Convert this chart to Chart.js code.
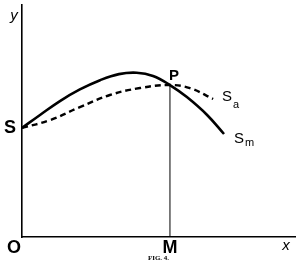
<!DOCTYPE html>
<html>
<head>
<meta charset="utf-8">
<script src="https://cdn.jsdelivr.net/npm/chart.js@4/dist/chart.umd.min.js"></script>
<style>
  html, body { margin: 0; padding: 0; background: #fff; }
  #wrap { width: 306px; height: 269px; position: relative; }
</style>
</head>
<body>
<div id="wrap"><canvas id="myChart"></canvas></div>
<script>
// curva Sm (linea continua) y Sa (linea discontinua)
const xSm = [0, 6.6, 13.9, 21.2, 28.6, 35.5, 42.0, 48.0, 54.2, 60.4, 67.8, 74.0];
const ySm = [47, 52.6, 58.6, 63.6, 67.6, 70.2, 70.8, 69.4, 65.5, 60.3, 52.6, 44.4];
const xSa = [0, 10.3, 21.2, 32.2, 43.2, 54.2, 61.5, 70.0];
const ySa = [47, 50.4, 56.0, 61.2, 64.2, 65.5, 64.2, 59.5];
// punto P y su ordenada PM
const xP = 54.2;
const yP = 65.5;

const toPts = (xs, ys) => xs.map((x, i) => ({x: x, y: ys[i]}));

// textos de la figura (S, P, O, M, x, y, Sa, Sm, Fig. 4.)
const rotulos = {
  id: 'rotulos',
  afterDraw(chart) {
    const c = chart.ctx;
    const sx = chart.scales.x, sy = chart.scales.y;
    const px = v => sx.getPixelForValue(v);
    const py = v => sy.getPixelForValue(v);
    c.save();
    c.fillStyle = '#000';
    c.textBaseline = 'middle';
    c.textAlign = 'center';

    c.font = 'bold 18px "Liberation Sans", Arial, sans-serif';
    c.fillText('S', px(0) - 12, py(ySm[0]));
    c.fillText('O', px(0) - 8, sy.bottom + 11);
    c.fillText('M', px(xP), sy.bottom + 11);

    c.font = 'bold 15px "Liberation Sans", Arial, sans-serif';
    c.fillText('P', px(xP) + 4, py(yP) - 9);

    c.textAlign = 'left';
    c.font = '15px "Liberation Sans", Arial, sans-serif';
    let n = xSa.length - 1;
    c.fillText('S', px(xSa[n]) + 9, py(ySa[n]) - 2);
    c.font = '11px "Liberation Sans", Arial, sans-serif';
    c.fillText('a', px(xSa[n]) + 20, py(ySa[n]) + 6);

    n = xSm.length - 1;
    c.font = '15px "Liberation Sans", Arial, sans-serif';
    c.fillText('S', px(xSm[n]) + 10, py(ySm[n]) + 5);
    c.font = '11px "Liberation Sans", Arial, sans-serif';
    c.fillText('m', px(xSm[n]) + 21, py(ySm[n]) + 9);

    c.textAlign = 'center';
    c.font = 'italic 15px "Liberation Sans", Arial, sans-serif';
    c.fillText('y', px(0) - 8, sy.top + 11);
    c.fillText('x', sx.right - 9, sy.bottom + 9);

    c.font = 'bold 7px "Liberation Serif", serif';
    c.fillText('FIG. 4.', (sx.left + sx.right) / 2, sy.bottom + 21);
    c.restore();
  }
};

const ctx = document.getElementById('myChart');
new Chart(ctx, {
  type: 'line',
  data: {
    datasets: [{
      label: 'Sm',
      data: toPts(xSm, ySm),
      borderColor: '#000',
      borderWidth: 2.6,
      pointRadius: 0,
      tension: 0.4
    }, {
      label: 'Sa',
      data: toPts(xSa, ySa),
      borderColor: '#000',
      borderWidth: 2.4,
      borderDash: [6, 4],
      pointRadius: 0,
      tension: 0.4
    }, {
      label: 'PM',
      data: [{x: xP, y: 0}, {x: xP, y: yP}],
      borderColor: '#000',
      borderWidth: 1,
      pointRadius: 0
    }]
  },
  options: {
    responsive: true,
    maintainAspectRatio: false,
    animation: false,
    layout: { padding: { left: 22, right: 11, top: 5, bottom: 32 } },
    plugins: {
      legend: { display: false },
      tooltip: { enabled: false }
    },
    scales: {
      x: {
        type: 'linear',
        min: 0,
        max: 100,
        ticks: { display: false },
        grid: { display: false, drawTicks: false },
        border: { display: true, color: '#000', width: 1.6 }
      },
      y: {
        min: 0,
        max: 100,
        ticks: { display: false },
        grid: { display: false, drawTicks: false },
        border: { display: true, color: '#000', width: 1.6 }
      }
    }
  },
  plugins: [rotulos]
});
</script>
</body>
</html>
